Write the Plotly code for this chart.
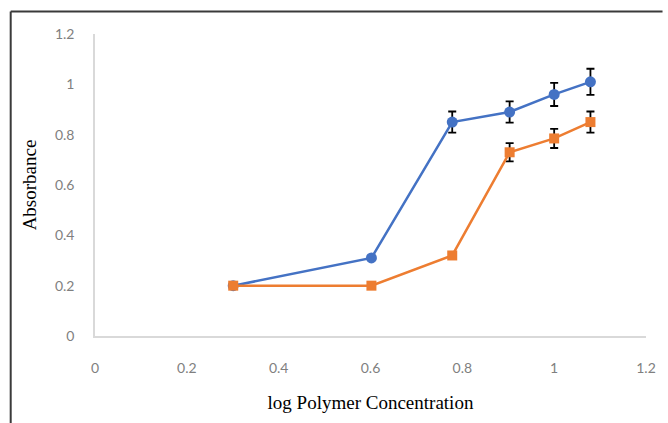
import plotly.graph_objects as go

log_conc = [0.301, 0.602, 0.778, 0.903, 1.0, 1.079]
series_a = [0.20, 0.31, 0.85, 0.89, 0.96, 1.01]
series_a_err = [0, 0, 0.042, 0.042, 0.046, 0.052]
series_b = [0.20, 0.20, 0.32, 0.73, 0.785, 0.85]
series_b_err = [0, 0, 0, 0.036, 0.038, 0.042]
x_ticks = [0, 0.2, 0.4, 0.6, 0.8, 1, 1.2]
y_ticks = [0, 0.2, 0.4, 0.6, 0.8, 1, 1.2]
x_tick_text = ["0", "0.2", "0.4", "0.6", "0.8", "1", "1.2"]
y_tick_text = ["0", "0.2", "0.4", "0.6", "0.8", "1", "1.2"]

fig = go.Figure()
fig.add_trace(go.Scatter(
    x=log_conc, y=series_a, mode="lines+markers",
    line=dict(color="#4472C4", width=2.5),
    marker=dict(symbol="circle", size=11, color="#4472C4"),
    error_y=dict(type="data", array=series_a_err, visible=True,
                 color="#000000", thickness=1.8, width=4),
    showlegend=False,
))
fig.add_trace(go.Scatter(
    x=log_conc, y=series_b, mode="lines+markers",
    line=dict(color="#ED7D31", width=2.5),
    marker=dict(symbol="square", size=10, color="#ED7D31"),
    error_y=dict(type="data", array=series_b_err, visible=True,
                 color="#000000", thickness=1.8, width=4),
    showlegend=False,
))

fig.update_layout(
    width=668, height=423,
    margin=dict(l=95, r=14, t=34, b=87),
    paper_bgcolor="white", plot_bgcolor="white",
    xaxis=dict(
        range=[0, 1.2], tickvals=x_ticks, ticktext=x_tick_text,
        showgrid=False, zeroline=False, showline=True,
        linecolor="#D9D9D9", linewidth=1.5,
        ticks="", ticklabelstandoff=18,
        tickfont=dict(family="Lato", size=14, color="#7F7F7F"),
        title=dict(text="log Polymer Concentration", standoff=21,
                   font=dict(family="Liberation Serif", size=19, color="#000000")),
    ),
    yaxis=dict(
        range=[0, 1.2], tickvals=y_ticks, ticktext=y_tick_text,
        showgrid=False, zeroline=False, showline=True,
        linecolor="#D9D9D9", linewidth=1.5,
        ticks="", ticklabelstandoff=16,
        tickfont=dict(family="Lato", size=14, color="#7F7F7F"),
        title=dict(text="Absorbance", standoff=13,
                   font=dict(family="Liberation Serif", size=19, color="#000000")),
    ),
    shapes=[
        dict(type="line", xref="paper", yref="paper",
             x0=-0.153, x1=1.03, y0=1.0745, y1=1.0745,
             line=dict(color="#3A3A3A", width=2)),
        dict(type="line", xref="paper", yref="paper",
             x0=-0.153, x1=-0.153, y0=1.0745, y1=-0.3,
             line=dict(color="#3A3A3A", width=2)),
    ],
)

fig.write_html("out.html")
